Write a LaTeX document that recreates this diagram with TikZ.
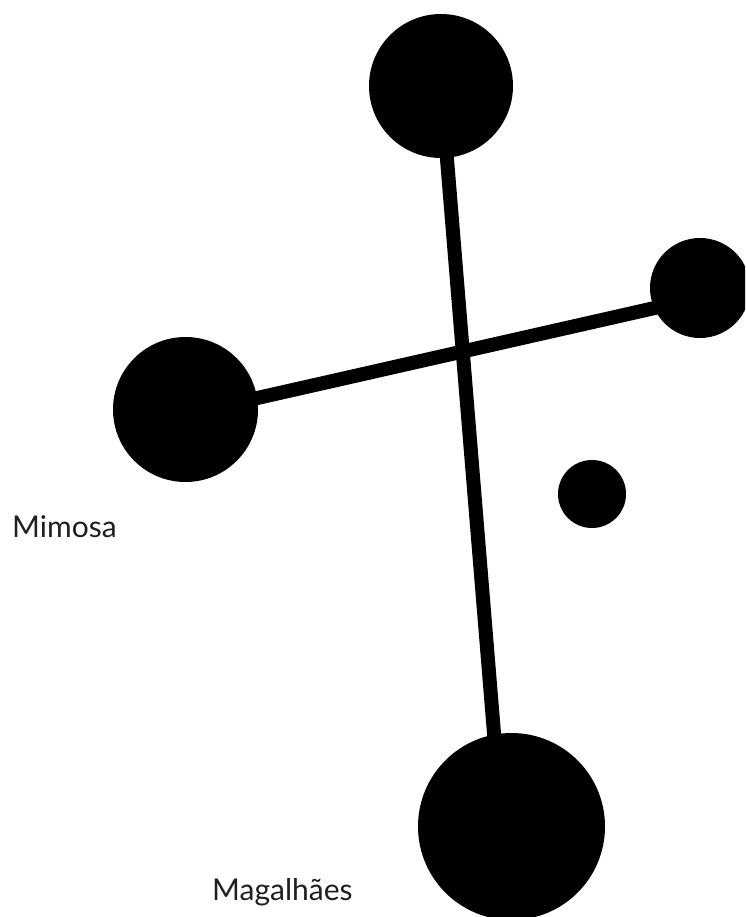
\documentclass[tikz,border=0pt]{standalone}
\usepackage{fontspec}
\setmainfont{Lato}
\begin{document}
\begin{tikzpicture}[x=1pt,y=-1pt,
  star/.style={circle,fill=black,inner sep=0pt,minimum size=#1},
  bar/.style={line width=14pt,black},
  lbl/.style={anchor=base west,inner sep=0pt,font=\fontsize{30}{36}\selectfont,text=black!88}]
\useasboundingbox (0,0) rectangle (745,917);
\clip (0,0) rectangle (745,917);
\coordinate (lbot) at (497,770);
\coordinate (cl) at (200,411);
\coordinate (cr) at (690,300);
\coordinate (ltop) at (441,86);
\draw[bar] (ltop) -- (lbot);
\draw[bar] (cl) -- (cr);
\node[star=144pt] (top) at (441,86) {};
\node[star=100pt] (right) at (700,288) {};
\node[star=145pt] (left) at (185.5,409.5) {};
\node[star=68pt] (small) at (592,494) {};
\node[star=187pt] (bottom) at (511.5,826.5) {};
\node[lbl] (mimosa) at (12,537) {Mimosa};
\node[lbl] (magalhaes) at (212,900) {Magalhães};
\end{tikzpicture}
\end{document}
